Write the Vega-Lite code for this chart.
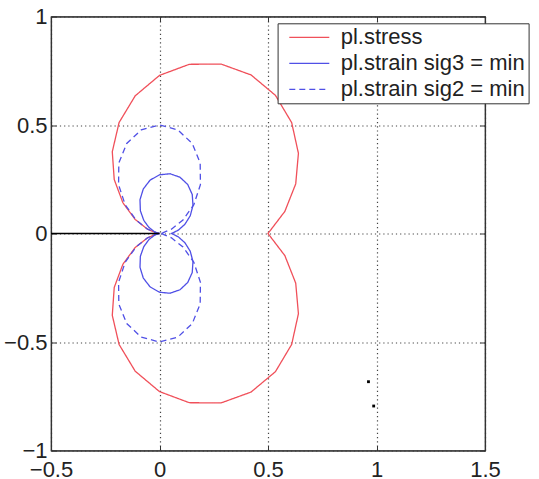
{
  "$schema": "https://vega.github.io/schema/vega-lite/v6.json",
  "autosize": {"type": "none"},
  "width": 434,
  "height": 434,
  "padding": {"left": 51, "top": 16.5, "right": 54, "bottom": 28.5},
  "background": "white",
  "config": {
    "font": "Liberation Sans",
    "view": {"stroke": "#333333", "strokeWidth": 1.2},
    "axis": {
      "labelFont": "Liberation Sans",
      "labelFontSize": 22,
      "labelColor": "#222222",
      "domainColor": "#333333",
      "domainWidth": 1.2,
      "tickColor": "#333333",
      "tickSize": -5,
      "gridColor": "#444444",
      "gridDash": [1.2, 3],
      "gridWidth": 1.2,
      "gridOpacity": 1,
      "labelFlush": false,
      "labelOverlap": false,
      "format": "~g",
      "title": null
    },
    "legend": {
      "labelFont": "Liberation Sans",
      "labelFontSize": 22,
      "labelColor": "#222222",
      "labelLimit": 400
    }
  },
  "datasets": {
    "curves": [
      {"s": "pl.stress", "t": -180, "x": 0, "y": 0},
      {"s": "pl.stress", "t": -170, "x": -0.0149, "y": -0.0026},
      {"s": "pl.stress", "t": -160, "x": -0.0558, "y": -0.0203},
      {"s": "pl.stress", "t": -150, "x": -0.1121, "y": -0.0647},
      {"s": "pl.stress", "t": -140, "x": -0.1686, "y": -0.1415},
      {"s": "pl.stress", "t": -130, "x": -0.2086, "y": -0.2486},
      {"s": "pl.stress", "t": -120, "x": -0.2176, "y": -0.3769},
      {"s": "pl.stress", "t": -110, "x": -0.1862, "y": -0.5115},
      {"s": "pl.stress", "t": -100, "x": -0.1119, "y": -0.6346},
      {"s": "pl.stress", "t": -90, "x": 0, "y": -0.7286},
      {"s": "pl.stress", "t": -80, "x": 0.1375, "y": -0.7798},
      {"s": "pl.stress", "t": -70, "x": 0.2841, "y": -0.7807},
      {"s": "pl.stress", "t": -60, "x": 0.4219, "y": -0.7307},
      {"s": "pl.stress", "t": -50, "x": 0.5343, "y": -0.6367},
      {"s": "pl.stress", "t": -40, "x": 0.6091, "y": -0.5111},
      {"s": "pl.stress", "t": -30, "x": 0.6402, "y": -0.3696},
      {"s": "pl.stress", "t": -20, "x": 0.6277, "y": -0.2285},
      {"s": "pl.stress", "t": -10, "x": 0.5776, "y": -0.1018},
      {"s": "pl.stress", "t": 0, "x": 0.5, "y": 0},
      {"s": "pl.stress", "t": 10, "x": 0.5776, "y": 0.1018},
      {"s": "pl.stress", "t": 20, "x": 0.6277, "y": 0.2285},
      {"s": "pl.stress", "t": 30, "x": 0.6402, "y": 0.3696},
      {"s": "pl.stress", "t": 40, "x": 0.6091, "y": 0.5111},
      {"s": "pl.stress", "t": 50, "x": 0.5343, "y": 0.6367},
      {"s": "pl.stress", "t": 60, "x": 0.4219, "y": 0.7307},
      {"s": "pl.stress", "t": 70, "x": 0.2841, "y": 0.7807},
      {"s": "pl.stress", "t": 80, "x": 0.1375, "y": 0.7798},
      {"s": "pl.stress", "t": 90, "x": 0, "y": 0.7286},
      {"s": "pl.stress", "t": 100, "x": -0.1119, "y": 0.6346},
      {"s": "pl.stress", "t": 110, "x": -0.1862, "y": 0.5115},
      {"s": "pl.stress", "t": 120, "x": -0.2176, "y": 0.3769},
      {"s": "pl.stress", "t": 130, "x": -0.2086, "y": 0.2486},
      {"s": "pl.stress", "t": 140, "x": -0.1686, "y": 0.1415},
      {"s": "pl.stress", "t": 150, "x": -0.1121, "y": 0.0647},
      {"s": "pl.stress", "t": 160, "x": -0.0558, "y": 0.0203},
      {"s": "pl.stress", "t": 170, "x": -0.0149, "y": 0.0026},
      {"s": "pl.stress", "t": 180, "x": 0, "y": 0},

      {"s": "pl.strain sig3 = min", "t": -180, "x": 0, "y": 0},
      {"s": "pl.strain sig3 = min", "t": -170, "x": -0.0066, "y": -0.0012},
      {"s": "pl.strain sig3 = min", "t": -160, "x": -0.0246, "y": -0.009},
      {"s": "pl.strain sig3 = min", "t": -150, "x": -0.049, "y": -0.0283},
      {"s": "pl.strain sig3 = min", "t": -140, "x": -0.0726, "y": -0.0609},
      {"s": "pl.strain sig3 = min", "t": -130, "x": -0.0882, "y": -0.1051},
      {"s": "pl.strain sig3 = min", "t": -120, "x": -0.0899, "y": -0.1557},
      {"s": "pl.strain sig3 = min", "t": -110, "x": -0.0747, "y": -0.2053},
      {"s": "pl.strain sig3 = min", "t": -100, "x": -0.0434, "y": -0.2459},
      {"s": "pl.strain sig3 = min", "t": -90, "x": 0, "y": -0.2706},
      {"s": "pl.strain sig3 = min", "t": -80, "x": 0.0486, "y": -0.2753},
      {"s": "pl.strain sig3 = min", "t": -70, "x": 0.0944, "y": -0.2593},
      {"s": "pl.strain sig3 = min", "t": -60, "x": 0.1302, "y": -0.2255},
      {"s": "pl.strain sig3 = min", "t": -50, "x": 0.1509, "y": -0.1798},
      {"s": "pl.strain sig3 = min", "t": -40, "x": 0.1543, "y": -0.1294},
      {"s": "pl.strain sig3 = min", "t": -30, "x": 0.1417, "y": -0.0818},
      {"s": "pl.strain sig3 = min", "t": -20, "x": 0.1171, "y": -0.0426},
      {"s": "pl.strain sig3 = min", "t": -10, "x": 0.0864, "y": -0.0152},
      {"s": "pl.strain sig3 = min", "t": 0, "x": 0.0556, "y": 0},
      {"s": "pl.strain sig3 = min", "t": 10, "x": 0.0864, "y": 0.0152},
      {"s": "pl.strain sig3 = min", "t": 20, "x": 0.1171, "y": 0.0426},
      {"s": "pl.strain sig3 = min", "t": 30, "x": 0.1417, "y": 0.0818},
      {"s": "pl.strain sig3 = min", "t": 40, "x": 0.1543, "y": 0.1294},
      {"s": "pl.strain sig3 = min", "t": 50, "x": 0.1509, "y": 0.1798},
      {"s": "pl.strain sig3 = min", "t": 60, "x": 0.1302, "y": 0.2255},
      {"s": "pl.strain sig3 = min", "t": 70, "x": 0.0944, "y": 0.2593},
      {"s": "pl.strain sig3 = min", "t": 80, "x": 0.0486, "y": 0.2753},
      {"s": "pl.strain sig3 = min", "t": 90, "x": 0, "y": 0.2706},
      {"s": "pl.strain sig3 = min", "t": 100, "x": -0.0434, "y": 0.2459},
      {"s": "pl.strain sig3 = min", "t": 110, "x": -0.0747, "y": 0.2053},
      {"s": "pl.strain sig3 = min", "t": 120, "x": -0.0899, "y": 0.1557},
      {"s": "pl.strain sig3 = min", "t": 130, "x": -0.0882, "y": 0.1051},
      {"s": "pl.strain sig3 = min", "t": 140, "x": -0.0726, "y": 0.0609},
      {"s": "pl.strain sig3 = min", "t": 150, "x": -0.049, "y": 0.0283},
      {"s": "pl.strain sig3 = min", "t": 160, "x": -0.0246, "y": 0.009},
      {"s": "pl.strain sig3 = min", "t": 170, "x": -0.0066, "y": 0.0012},
      {"s": "pl.strain sig3 = min", "t": 180, "x": 0, "y": 0},

      {"s": "pl.strain sig2 = min", "t": -180, "x": 0, "y": 0},
      {"s": "pl.strain sig2 = min", "t": -170, "x": -0.0148, "y": -0.0026},
      {"s": "pl.strain sig2 = min", "t": -160, "x": -0.055, "y": -0.02},
      {"s": "pl.strain sig2 = min", "t": -150, "x": -0.1083, "y": -0.0625},
      {"s": "pl.strain sig2 = min", "t": -140, "x": -0.1583, "y": -0.1328},
      {"s": "pl.strain sig2 = min", "t": -130, "x": -0.1886, "y": -0.2248},
      {"s": "pl.strain sig2 = min", "t": -120, "x": -0.1875, "y": -0.3248},
      {"s": "pl.strain sig2 = min", "t": -110, "x": -0.151, "y": -0.4149},
      {"s": "pl.strain sig2 = min", "t": -100, "x": -0.0842, "y": -0.4776},
      {"s": "pl.strain sig2 = min", "t": -90, "x": 0, "y": -0.5},
      {"s": "pl.strain sig2 = min", "t": -80, "x": 0.0842, "y": -0.4776},
      {"s": "pl.strain sig2 = min", "t": -70, "x": 0.151, "y": -0.4149},
      {"s": "pl.strain sig2 = min", "t": -60, "x": 0.1875, "y": -0.3248},
      {"s": "pl.strain sig2 = min", "t": -50, "x": 0.1886, "y": -0.2248},
      {"s": "pl.strain sig2 = min", "t": -40, "x": 0.1583, "y": -0.1328},
      {"s": "pl.strain sig2 = min", "t": -30, "x": 0.1083, "y": -0.0625},
      {"s": "pl.strain sig2 = min", "t": -20, "x": 0.055, "y": -0.02},
      {"s": "pl.strain sig2 = min", "t": -10, "x": 0.0148, "y": -0.0026},
      {"s": "pl.strain sig2 = min", "t": 0, "x": 0, "y": 0},
      {"s": "pl.strain sig2 = min", "t": 10, "x": 0.0148, "y": 0.0026},
      {"s": "pl.strain sig2 = min", "t": 20, "x": 0.055, "y": 0.02},
      {"s": "pl.strain sig2 = min", "t": 30, "x": 0.1083, "y": 0.0625},
      {"s": "pl.strain sig2 = min", "t": 40, "x": 0.1583, "y": 0.1328},
      {"s": "pl.strain sig2 = min", "t": 50, "x": 0.1886, "y": 0.2248},
      {"s": "pl.strain sig2 = min", "t": 60, "x": 0.1875, "y": 0.3248},
      {"s": "pl.strain sig2 = min", "t": 70, "x": 0.151, "y": 0.4149},
      {"s": "pl.strain sig2 = min", "t": 80, "x": 0.0842, "y": 0.4776},
      {"s": "pl.strain sig2 = min", "t": 90, "x": 0, "y": 0.5},
      {"s": "pl.strain sig2 = min", "t": 100, "x": -0.0842, "y": 0.4776},
      {"s": "pl.strain sig2 = min", "t": 110, "x": -0.151, "y": 0.4149},
      {"s": "pl.strain sig2 = min", "t": 120, "x": -0.1875, "y": 0.3248},
      {"s": "pl.strain sig2 = min", "t": 130, "x": -0.1886, "y": 0.2248},
      {"s": "pl.strain sig2 = min", "t": 140, "x": -0.1583, "y": 0.1328},
      {"s": "pl.strain sig2 = min", "t": 150, "x": -0.1083, "y": 0.0625},
      {"s": "pl.strain sig2 = min", "t": 160, "x": -0.055, "y": 0.02},
      {"s": "pl.strain sig2 = min", "t": 170, "x": -0.0148, "y": 0.0026},
      {"s": "pl.strain sig2 = min", "t": 180, "x": 0, "y": 0}
    ],
    "crack": [
      {"x": -0.5, "y": 0},
      {"x": 0, "y": 0}
    ],
    "dots": [
      {"x": 0.963, "y": -0.683},
      {"x": 0.987, "y": -0.795}
    ]
  },
  "layer": [
    {
      "data": {"name": "curves"},
      "mark": {"type": "line", "strokeWidth": 1.3, "clip": true},
      "encoding": {
        "x": {
          "field": "x", "type": "quantitative",
          "scale": {"domain": [-0.5, 1.5], "nice": false, "zero": false},
          "axis": {"orient": "bottom", "values": [-0.5, 0, 0.5, 1, 1.5], "grid": true, "labelPadding": 14}
        },
        "y": {
          "field": "y", "type": "quantitative",
          "scale": {"domain": [-1, 1], "nice": false, "zero": false},
          "axis": {"orient": "left", "values": [-1, -0.5, 0, 0.5, 1], "grid": true, "labelPadding": 9}
        },
        "order": {"field": "t", "type": "quantitative"},
        "color": {
          "field": "s", "type": "nominal",
          "scale": {
            "domain": ["pl.stress", "pl.strain sig3 = min", "pl.strain sig2 = min"],
            "range": ["#f0505a", "#5050e6", "#5050e6"]
          },
          "legend": {
            "orient": "none",
            "legendX": 226.6,
            "legendY": 6.8,
            "title": null,
            "direction": "vertical",
            "symbolType": "M-2,0H2",
            "symbolSize": 400,
            "symbolStrokeWidth": 1.3,
            "symbolOffset": 17.7,
            "labelOffset": 20.4,
            "padding": 3,
            "rowPadding": 4,
            "strokeColor": "#333333",
            "fillColor": "white",
            "cornerRadius": 0
          }
        },
        "strokeDash": {
          "field": "s", "type": "nominal",
          "scale": {
            "domain": ["pl.stress", "pl.strain sig3 = min", "pl.strain sig2 = min"],
            "range": [[1, 0], [1, 0], [6, 4]]
          },
          "legend": {
            "orient": "none",
            "legendX": 226.6,
            "legendY": 6.8,
            "title": null,
            "direction": "vertical",
            "symbolType": "M-2,0H2",
            "symbolSize": 400,
            "symbolStrokeWidth": 1.3,
            "symbolOffset": 17.7,
            "labelOffset": 20.4,
            "padding": 3,
            "rowPadding": 4,
            "strokeColor": "#333333",
            "fillColor": "white",
            "cornerRadius": 0
          }
        }
      }
    },
    {
      "data": {"name": "crack"},
      "mark": {"type": "line", "color": "#000000", "strokeWidth": 1.5},
      "encoding": {
        "x": {"field": "x", "type": "quantitative", "axis": null},
        "y": {"field": "y", "type": "quantitative", "axis": null}
      }
    },
    {
      "data": {"name": "dots"},
      "mark": {"type": "point", "shape": "square", "filled": true, "color": "#000000", "size": 8, "opacity": 1},
      "encoding": {
        "x": {"field": "x", "type": "quantitative", "axis": null},
        "y": {"field": "y", "type": "quantitative", "axis": null}
      }
    },
    {
      "data": {"name": "crack"},
      "mark": {"type": "point", "opacity": 0},
      "encoding": {
        "x": {"field": "x", "type": "quantitative",
          "axis": {"orient": "top", "values": [-0.5, 0, 0.5, 1, 1.5], "labels": false, "grid": false}},
        "y": {"field": "y", "type": "quantitative",
          "axis": {"orient": "right", "values": [-1, -0.5, 0, 0.5, 1], "labels": false, "grid": false}}
      }
    }
  ],
  "resolve": {"axis": {"x": "independent", "y": "independent"}}
}
